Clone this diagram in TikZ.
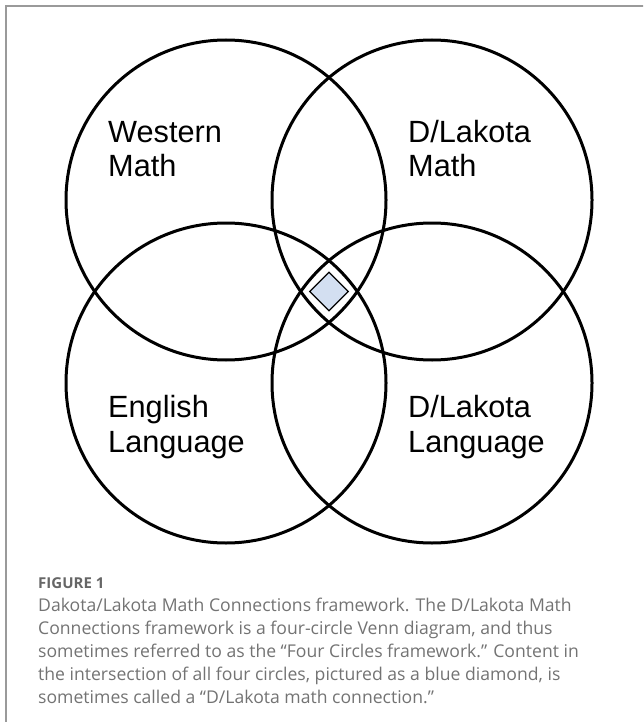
\documentclass[tikz,border=0pt]{standalone}
\usepackage{fontspec}
\usepackage{xcolor}
\usepackage{tikz}
\usetikzlibrary{positioning,shapes.geometric,calc}
\newfontfamily\arialfont{Liberation Sans}
\newfontfamily\capfont{Open Sans}
\definecolor{cFrame}{HTML}{9A9A9A}
\definecolor{cDiamond}{HTML}{D3DFF1}
\definecolor{cCapHead}{HTML}{666666}
\definecolor{cCapText}{HTML}{737373}

\begin{document}
\begin{tikzpicture}[x=1pt, y=-1pt,
  venn/.style={circle, draw=black, line width=3pt, inner sep=0pt,
    minimum size=320pt},
  lbl/.style={font=\arialfont\fontsize{30.7}{35}\selectfont, align=left,
    inner sep=0pt, anchor=base west},
  gem/.style={diamond, aspect=1, fill=cDiamond, draw=black, line width=1.2pt,
    inner sep=0pt, minimum width=39pt, minimum height=39pt},
  caphead/.style={font=\capfont\bfseries\fontsize{15}{18}\selectfont, text=cCapHead,
    inner sep=0pt, anchor=base west},
  captext/.style={font=\capfont\fontsize{17.6}{23}\selectfont, text=cCapText,
    align=left, inner sep=0pt, anchor=base west}]

  \useasboundingbox (0,0) rectangle (643,722);
  \clip (0,0) rectangle (643,722);
  % frame, cut at right and bottom
  \draw[cFrame, line width=1.5pt] (6,6) rectangle (700,800);

  \node[venn] (wm) at (226,200) {};
  \node[venn] (dm) at (432,200) {};
  \node[venn] (el) at (226,383) {};
  \node[venn] (dl) at (432,383) {};

  \coordinate (mid) at ($(wm.center)!0.5!(dl.center)$);
  \node[gem] (conn) at (mid) {};

  % base anchor sits on the last line
  \node[lbl] (wmt) at ($(wm.center)+(-118,-23)$) {Western\\Math};
  \node[lbl] (dmt) at ($(dm.center)+(-24,-23)$) {D/Lakota\\Math};
  \node[lbl] (elt) at ($(el.center)+(-118,69)$) {English\\Language};
  \node[lbl] (dlt) at ($(dl.center)+(-24,69)$) {D/Lakota\\Language};

  \node[caphead] (fig) at (38,588) {FIGURE 1};
  \node[captext] (cap) at (38,703) {Dakota/Lakota Math Connections framework. The D/Lakota Math\\
    Connections framework is a four-circle Venn diagram, and thus\\
    sometimes referred to as the “Four Circles framework.” Content in\\
    the intersection of all four circles, pictured as a blue diamond, is\\
    sometimes called a “D/Lakota math connection.”};
\end{tikzpicture}
\end{document}
